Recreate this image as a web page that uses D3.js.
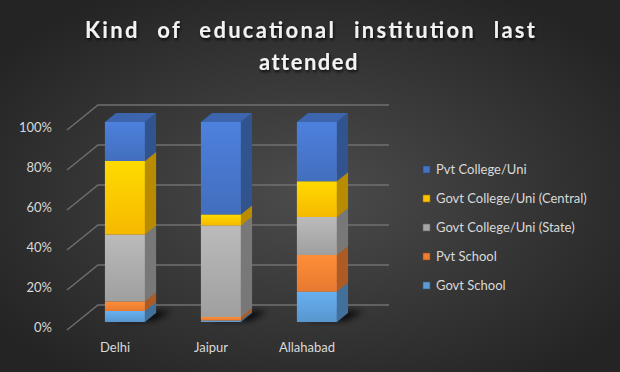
<!DOCTYPE html>
<html>
<head>
<meta charset="utf-8">
<script src="https://cdn.jsdelivr.net/npm/d3@7"></script>
<style>
  body { margin: 0; background: #262626; }
  svg { display: block; }
  text { font-family: Lato, "Open Sans", sans-serif; }
</style>
</head>
<body>
<div id="chart"></div>
<script>
const categories = ["Delhi", "Jaipur", "Allahabad"];
const seriesNames = ["Govt School", "Pvt School", "Govt College/Uni (State)", "Govt College/Uni (Central)", "Pvt College/Uni"];
const govtSchool = [5.5, 0.8, 15.1];
const pvtSchool = [4.8, 1.7, 18.4];
const govtState = [33.4, 45.7, 19.0];
const govtCentral = [36.8, 5.6, 17.9];
const pvtCollege = [19.5, 46.2, 29.6];
const yTicks = [0, 0.2, 0.4, 0.6, 0.8, 1];
const colors = ["#5b9bd5", "#ed7d31", "#a5a5a5", "#ffc000", "#4472c4"];

const width = 620, height = 372;
const depth = [31, -25];       // floor / wall depth vector
const barFront = 0.32, barBack = 0.68;

const svg = d3.select("#chart").append("svg")
  .attr("width", width).attr("height", height);

const defs = svg.append("defs");
const bg = defs.append("radialGradient").attr("id", "bg")
  .attr("cx", "50%").attr("cy", "52%").attr("r", "62%");
bg.append("stop").attr("offset", "0%").attr("stop-color", "#4c4c4c");
bg.append("stop").attr("offset", "100%").attr("stop-color", "#242424");

const blur = defs.append("filter").attr("id", "blur")
  .attr("x", "-50%").attr("y", "-50%").attr("width", "200%").attr("height", "200%");
blur.append("feGaussianBlur").attr("stdDeviation", 3);

const shadow = defs.append("filter").attr("id", "tshadow")
  .attr("x", "-10%").attr("y", "-30%").attr("width", "120%").attr("height", "160%");
shadow.append("feDropShadow").attr("dx", 1).attr("dy", 2)
  .attr("stdDeviation", 1.5).attr("flood-color", "#000").attr("flood-opacity", 0.8);

colors.forEach((c, i) => {
  const g = defs.append("linearGradient").attr("id", "grad" + i)
    .attr("x1", 0).attr("y1", 0).attr("x2", 0).attr("y2", 1);
  g.append("stop").attr("offset", "0%").attr("stop-color", d3.color(c).brighter(0.35));
  g.append("stop").attr("offset", "100%").attr("stop-color", d3.color(c).darker(0.1));
});

svg.append("rect").attr("width", width).attr("height", height).attr("fill", "url(#bg)");

// title
const title = svg.append("g").attr("fill", "#f2f2f2").attr("font-weight", "bold")
  .attr("font-size", 22).attr("text-anchor", "middle").attr("filter", "url(#tshadow)");
title.append("text").attr("x", 310).attr("y", 38)
  .attr("word-spacing", 10)
  .attr("textLength", 450).attr("lengthAdjust", "spacing")
  .text("Kind of educational institution last");
title.append("text").attr("x", 309).attr("y", 70)
  .attr("letter-spacing", 1.5).text("attended");

// scales
const x = d3.scaleBand().domain(categories).range([67, 355])
  .paddingInner(0.583).paddingOuter(0.2917);
const y = d3.scaleLinear().domain([0, 1]).range([330, 130]);

const proj = (px, py, f) => [px + f * depth[0], py + f * depth[1]];

// gridlines: left wall diagonal + back wall horizontal
const grid = svg.append("g").attr("stroke", "#707070").attr("stroke-width", 1.3).attr("fill", "none");
const backRight = x.range()[1] + depth[0] + 3;
yTicks.forEach(t => {
  const a = [x.range()[0], y(t)];
  const b = proj(a[0], a[1], 1);
  grid.append("path").attr("d", `M${a}L${b}L${backRight},${b[1]}`);
});

// y axis labels
svg.append("g")
  .attr("transform", "translate(55,-3)")
  .call(d3.axisLeft(y).tickValues(yTicks).tickFormat(d3.format(".0%")).tickSize(0).tickPadding(3))
  .call(g => g.select(".domain").remove())
  .call(g => g.selectAll("text").attr("fill", "#d9d9d9").attr("font-size", 13)
    .attr("font-family", "Lato, 'Open Sans', sans-serif"));

// x axis labels
svg.append("g")
  .attr("transform", "translate(0,340)")
  .call(d3.axisBottom(x).tickSize(0).tickPadding(3))
  .call(g => g.select(".domain").remove())
  .call(g => g.selectAll("text").attr("fill", "#d9d9d9").attr("font-size", 13)
    .attr("font-family", "Lato, 'Open Sans', sans-serif"));

// data
const rows = categories.map((c, i) => ({
  cat: c,
  [seriesNames[0]]: govtSchool[i],
  [seriesNames[1]]: pvtSchool[i],
  [seriesNames[2]]: govtState[i],
  [seriesNames[3]]: govtCentral[i],
  [seriesNames[4]]: pvtCollege[i]
}));
const stacked = d3.stack().keys(seriesNames).offset(d3.stackOffsetExpand)(rows);

// bar shadows on the floor
const shadows = svg.append("g");
categories.forEach(c => {
  const x0 = x(c) + 8, x1 = x(c) + x.bandwidth() + 8;
  const pts = [proj(x0, y(0), barFront + 0.05), proj(x1, y(0), barFront + 0.05),
               proj(x1 + 5, y(0), barBack + 0.08), proj(x0 + 5, y(0), barBack + 0.08)];
  shadows.append("polygon").attr("points", pts.join(" "))
    .attr("fill", "#000").attr("opacity", 0.8).attr("filter", "url(#blur)");
});

// bars
const bars = svg.append("g");
categories.forEach((c, ci) => {
  const x0 = x(c), x1 = x(c) + x.bandwidth();
  stacked.forEach((s, si) => {
    const d = s[ci];
    if (d[1] - d[0] <= 0) return;
    const col = colors[si];
    const yb = y(d[0]), yt = y(d[1]);
    const fbl = proj(x0, yb, barFront), fbr = proj(x1, yb, barFront);
    const ftl = proj(x0, yt, barFront), ftr = proj(x1, yt, barFront);
    const bbr = proj(x1, yb, barBack), btr = proj(x1, yt, barBack), btl = proj(x0, yt, barBack);
    bars.append("polygon").attr("points", [fbl, fbr, ftr, ftl].join(" "))
      .attr("fill", `url(#grad${si})`);
    bars.append("polygon").attr("points", [fbr, bbr, btr, ftr].join(" "))
      .attr("fill", d3.color(col).darker(0.9));
    bars.append("polygon").attr("points", [ftl, ftr, btr, btl].join(" "))
      .attr("fill", d3.color(col).darker(0.35));
  });
});

// legend
const legend = svg.append("g").attr("transform", "translate(423,166)");
seriesNames.slice().reverse().forEach((name, i) => {
  const si = seriesNames.indexOf(name);
  const row = legend.append("g").attr("transform", `translate(0,${i * 29})`);
  row.append("rect").attr("width", 7).attr("height", 7)
    .attr("fill", colors[si]).attr("stroke", d3.color(colors[si]).darker(1.5)).attr("stroke-width", 0.6);
  row.append("text").attr("x", 13).attr("y", 8).attr("fill", "#d9d9d9")
    .attr("font-size", 13).text(name);
});
</script>
</body>
</html>
